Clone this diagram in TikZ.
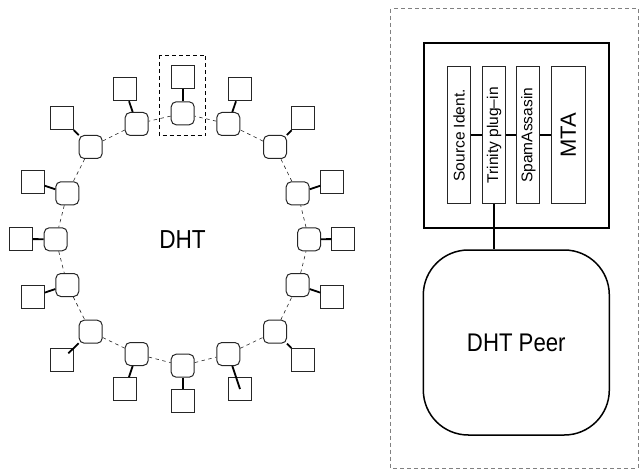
\documentclass[tikz,border=0pt]{standalone}
\usepackage{fontspec}
\usepackage{graphicx}
\setmainfont{Liberation Sans}
\usetikzlibrary{calc}
\begin{document}
\begin{tikzpicture}[x=1pt,y=-1pt,
  peer/.style={draw=black!85, rounded corners=5pt, minimum size=23pt,
    inner sep=0pt, line width=1pt, fill=white},
  host/.style={draw=black!85, minimum size=23pt, inner sep=0pt, line width=0.9pt},
  ring/.style={dash pattern=on 3.5pt off 3.5pt, line width=0.6pt, black!85},
  link/.style={line width=1.8pt, black},
  comp/.style={draw=black!85, line width=0.9pt, minimum width=23pt,
    minimum height=137pt, inner sep=0pt},
]
\useasboundingbox (0,0) rectangle (639,470);

% ---- DHT ring: peers ----
\foreach \i/\px/\py in {
  0/182.7/113.3, 1/136.7/124, 2/90.7/147, 3/67.3/193.3,
  4/55.7/239.3, 5/67.3/285, 6/90.7/331.7, 7/136.7/354,
  8/182.7/365.7, 9/228.3/354, 10/275/331.7, 11/297.7/285,
  12/309/239.3, 13/297.7/193.3, 14/275/147, 15/228.3/124}
  \node[peer] (n\i) at (\px,\py) {};

% ---- hosts attached to each peer ----
\foreach \i/\px/\py in {
  0/182.7/77, 1/125/89.3, 2/61.7/118.3, 3/32.7/181.7,
  4/21/239, 5/32.7/296.7, 6/61.7/360, 7/125/389,
  8/182.7/400.7, 9/240/389, 10/303.3/360, 11/332.3/296.7,
  12/343.3/239, 13/332.3/181.7, 14/303.3/118.3, 15/240/89.3}
  \node[host] (s\i) at (\px,\py) {};

% ring links between neighbouring peers
\foreach \i in {0,...,15}{
  \pgfmathtruncatemacro{\j}{mod(\i+1,16)}
  \draw[ring] (n\i) -- (n\j);
}

% peer-to-host links
\foreach \i in {0,1,2,3,4,5,7,8,10,11,12,13,14,15}
  \draw[link] (n\i) -- (s\i);
\coordinate (e6) at (68.3,353.3);
\draw[link] (n6) -- (e6);
\draw[link] (n9) -- (s9.center);

% highlighted peer with its host
\draw[dash pattern=on 4pt off 3pt, line width=0.8pt] (159.3,55) rectangle (205.7,135.7);

\node (dht) at (182.5,240) {\fontsize{26}{30}\selectfont\scalebox{0.87}[1]{DHT}};

% ---- single peer detail ----
\draw[dash pattern=on 4pt off 3pt, line width=0.9pt, gray] (390.7,8.7) rectangle (638,468.3);

\node[draw, line width=2pt, minimum width=185pt, minimum height=184.7pt, inner sep=0pt]
  (mail) at (516.5,135.6) {};

\node[comp] (src)  at (459.2,135.3) {\rotatebox{90}{\fontsize{15.5}{18}\selectfont Source Ident.}};
\node[comp] (tri)  at (494,135.3)   {\rotatebox{90}{\fontsize{15.5}{18}\selectfont Trinity plug--in}};
\node[comp] (spam) at (528.3,135.3) {\rotatebox{90}{\fontsize{15.5}{18}\selectfont SpamAssasin}};
\node[comp, minimum width=34.7pt] (mta) at (568.3,135.3) {\rotatebox{90}{\fontsize{22}{24}\selectfont MTA}};

\draw[link] (src.east) -- (tri.west);
\draw[link] (tri.east) -- (spam.west);
\draw[link] (spam.east) -- (mta.west);

\node[draw, line width=1.5pt, rounded corners=45pt, minimum width=186pt,
  minimum height=185pt, inner sep=0pt] (dhtpeer) at (516.3,342.5)
  {\fontsize{25.5}{30}\selectfont\scalebox{0.87}[1]{DHT Peer}};

\draw[link] (tri.south) -- (tri.south |- dhtpeer.north);
\end{tikzpicture}
\end{document}
